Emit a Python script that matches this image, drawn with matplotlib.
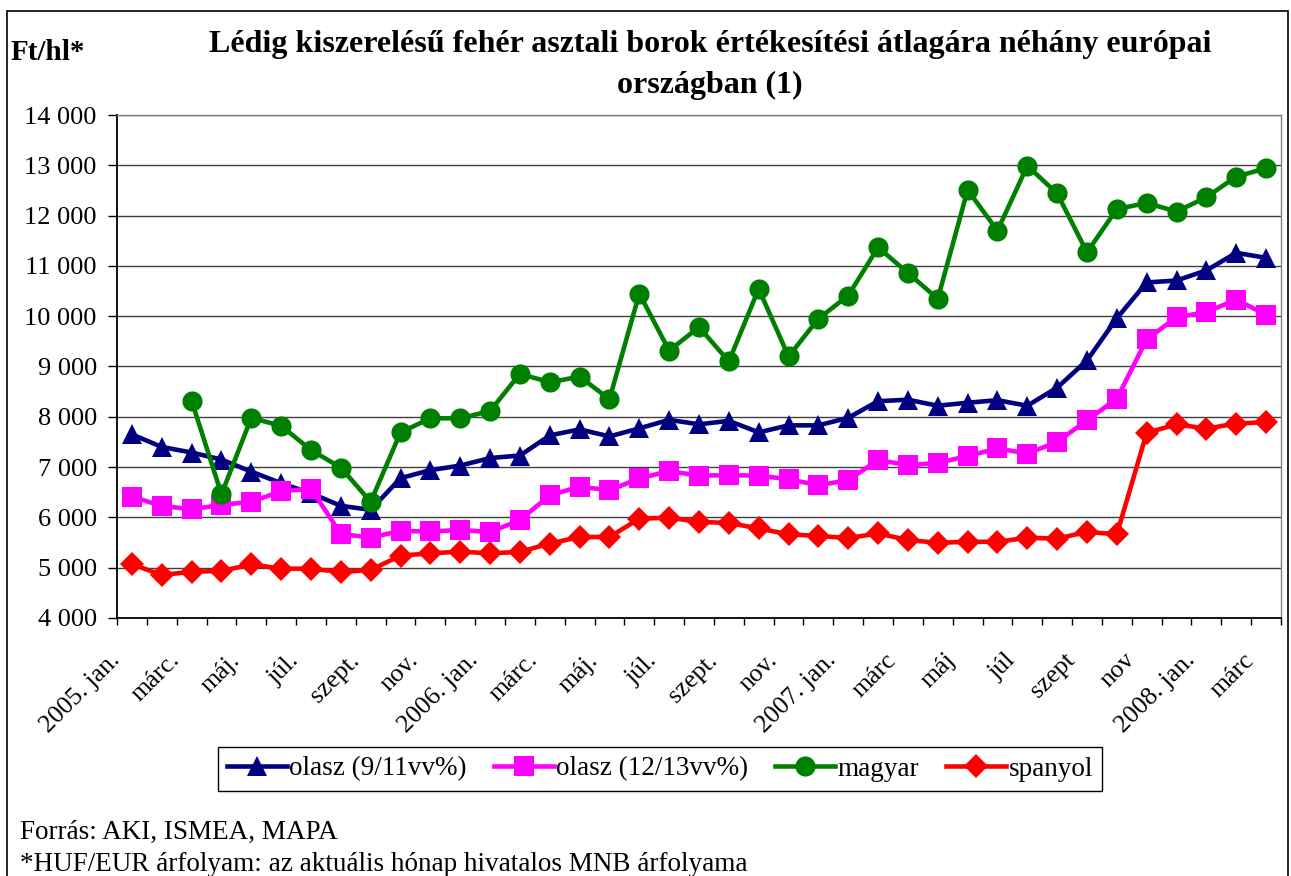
import numpy as np
import matplotlib.pyplot as plt
import matplotlib.transforms as mtransforms
from matplotlib.patches import Rectangle

# Data
# ----------------------------------------------------------------------------

months = ['2005. jan.', 'febr.', 'márc.', 'ápr.', 'máj.', 'jún.', 'júl.', 'aug.',
          'szept.', 'okt.', 'nov.', 'dec.',
          '2006. jan.', 'febr.', 'márc.', 'ápr.', 'máj.', 'jún.', 'júl.', 'aug.',
          'szept.', 'okt.', 'nov.', 'dec.',
          '2007. jan.', 'febr', 'márc', 'ápr', 'máj', 'jún', 'júl', 'aug',
          'szept', 'okt', 'nov', 'dec',
          '2008. jan.', 'febr', 'márc']

olasz_9_11 = [7650, 7400, 7290, 7150, 6910, 6680, 6480, 6230, 6150, 6780,
              6940, 7030, 7180, 7230, 7630, 7750, 7610, 7770, 7940, 7850,
              7920, 7690, 7830, 7830, 7980, 8310, 8340, 8220, 8280, 8330,
              8220, 8580, 9120, 9960, 10670, 10710, 10910, 11260, 11160]

olasz_12_13 = [6410, 6230, 6160, 6250, 6310, 6520, 6570, 5670, 5600, 5730,
               5720, 5750, 5710, 5945, 6440, 6610, 6540, 6775, 6920, 6830,
               6840, 6830, 6760, 6640, 6740, 7140, 7040, 7080, 7220, 7370,
               7270, 7500, 7930, 8360, 9540, 9980, 10080, 10330, 10030]

magyar = [np.nan, np.nan, 8320, 6460, 7980, 7820, 7340, 6990, 6310, 7690,
          7970, 7970, 8115, 8855, 8685, 8800, 8350, 10450, 9315, 9785,
          9100, 10545, 9200, 9950, 10410, 11370, 10860, 10346, 12510, 11700,
          12990, 12440, 11270, 12130, 12250, 12080, 12365, 12775, 12940]

spanyol = [5070, 4855, 4920, 4935, 5065, 4980, 4980, 4915, 4955, 5240,
           5285, 5320, 5285, 5315, 5480, 5610, 5610, 5975, 5995, 5910,
           5890, 5780, 5665, 5630, 5590, 5680, 5550, 5495, 5515, 5515,
           5595, 5580, 5710, 5665, 7680, 7850, 7765, 7865, 7895]

y_ticks = [4000, 5000, 6000, 7000, 8000, 9000, 10000, 11000, 12000, 13000, 14000]
y_labels = ['4 000', '5 000', '6 000', '7 000', '8 000', '9 000', '10 000',
            '11 000', '12 000', '13 000', '14 000']

# Plot
# ----------------------------------------------------------------------------

plt.rcParams['font.family'] = ['Liberation Serif', 'DejaVu Serif']

W, H = 1291, 876
fig = plt.figure(figsize=(W / 100, H / 100), dpi=100)
ax = fig.add_axes([117 / W, 1 - 618 / H, (1281 - 117) / W, (618 - 115) / H])

x = np.arange(len(months))
style = dict(linewidth=3.3, markersize=14.5, markeredgewidth=0)
ax.plot(x, olasz_9_11, color='#000080', marker='^', label='olasz (9/11vv%)', **style)
ax.plot(x, olasz_12_13, color='#FF00FF', marker='s', label='olasz (12/13vv%)', **style)
ax.plot(x, magyar, color='#008000', marker='o', label='magyar', **style)
ax.plot(x, spanyol, color='#FF0000', marker='D', label='spanyol',
        linewidth=3.3, markersize=12, markeredgewidth=0)

ax.set_xlim(-0.5, len(months) - 0.5)
ax.set_ylim(4000, 14000)
ax.set_yticks(y_ticks)
ax.set_yticklabels(y_labels, fontsize=19)
ax.yaxis.grid(True, color='#404040', linewidth=1.0)
ax.set_axisbelow(True)

ax.set_xticks(x[::2])
ax.set_xticklabels(months[::2], rotation=45, ha='right', va='center',
                   rotation_mode='anchor', fontsize=18.5)
ax.set_xticks(np.arange(-0.5, len(months), 1), minor=True)
ax.tick_params(axis='x', which='major', length=0, pad=28)
ax.tick_params(axis='x', which='minor', length=5, width=1, direction='out')
ax.tick_params(axis='y', length=6.5, width=1, direction='out', pad=8)
shift = mtransforms.ScaledTranslation(-0.15, 0, fig.dpi_scale_trans)
for lbl in ax.get_xticklabels():
    lbl.set_transform(lbl.get_transform() + shift)

for side in ['left', 'bottom']:
    ax.spines[side].set_color('black')
    ax.spines[side].set_linewidth(1.3)
for side in ['top', 'right']:
    ax.spines[side].set_color('#808080')
    ax.spines[side].set_linewidth(1.0)

fig.text(710 / W, 1 - 52 / H,
         'Lédig kiszerelésű fehér asztali borok értékesítési átlagára néhány európai',
         ha='center', va='baseline', fontsize=23, fontweight='bold')
fig.text(710 / W, 1 - 93 / H, 'országban (1)',
         ha='center', va='baseline', fontsize=23, fontweight='bold')
fig.text(11 / W, 1 - 60 / H, 'Ft/hl*', ha='left', va='baseline',
         fontsize=21, fontweight='bold')

fig.legend(loc='center', bbox_to_anchor=(660 / W, 1 - 769 / H), ncol=4,
           fontsize=19.5, frameon=True, fancybox=False, edgecolor='black',
           handlelength=2.2, handletextpad=0.1, columnspacing=1.0,
           borderpad=0.35, framealpha=1)

fig.text(20 / W, 1 - 839 / H, 'Forrás: AKI, ISMEA, MAPA', ha='left',
         va='baseline', fontsize=19.5)
fig.text(20 / W, 1 - 871 / H,
         '*HUF/EUR árfolyam: az aktuális hónap hivatalos MNB árfolyama',
         ha='left', va='baseline', fontsize=19.5)

fig.patches.append(Rectangle((7 / W, -0.05), 1281 / W, 1.05 - 11 / H,
                             transform=fig.transFigure, fill=False,
                             edgecolor='black', linewidth=1.2))

fig.savefig('out.png', dpi=100)
